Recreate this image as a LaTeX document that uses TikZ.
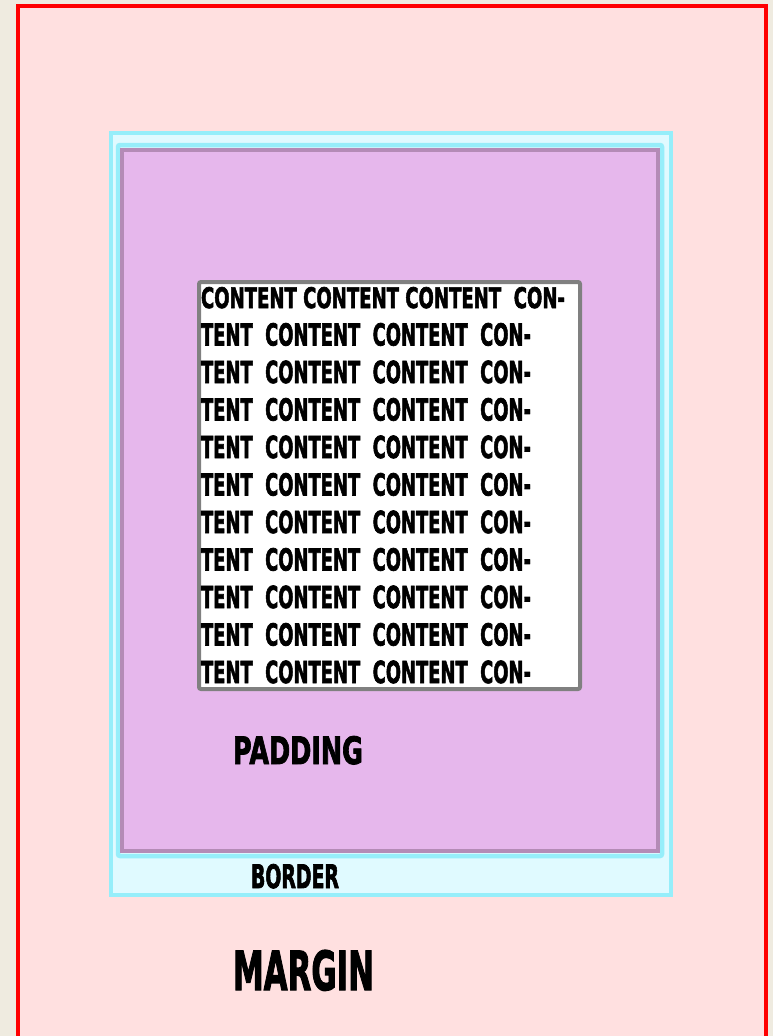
\documentclass[tikz,border=0pt]{standalone}
\usepackage{fontspec}
\setmainfont{DejaVu Sans}
\newfontfamily\heavyfont{DejaVu Sans}[BoldFeatures={FakeBold=2.5}]
\usepackage{graphicx}
\definecolor{bgbeige}{HTML}{EFEBE0}
\definecolor{marginred}{HTML}{FF0000}
\definecolor{marginfill}{HTML}{FFE0E0}
\definecolor{bordercyan}{HTML}{96EEFA}
\definecolor{borderfill}{HTML}{E0FAFF}
\definecolor{padfill}{HTML}{E6B7EC}
\definecolor{padedge}{HTML}{B48BB6}
\definecolor{contentgray}{HTML}{808080}
\newcommand{\fitbox}[3]{\resizebox{#1}{#2}{\heavyfont\bfseries #3}}
\tikzset{
  lbl/.style={anchor=base west, inner sep=0pt, outer sep=0pt, text=black},
  marginbox/.style={draw=marginred, line width=4.5pt, fill=marginfill},
  borderbox/.style={draw=bordercyan, line width=4.5pt, fill=borderfill},
  innerframe/.style={draw=bordercyan, line width=4.5pt, rounded corners=2pt},
  paddingbox/.style={draw=padedge, line width=4.5pt, fill=padfill},
  contentbox/.style={draw=contentgray, line width=4pt, fill=white, rounded corners=2pt}
}
\begin{document}
\begin{tikzpicture}[x=1pt,y=-1pt]
\useasboundingbox (0,0) rectangle (773,1036);
\clip (0,0) rectangle (773,1036);
\fill[bgbeige] (0,0) rectangle (773,1036);
% margin
\draw[marginbox] (18,6) rectangle (766,1050);
% border
\draw[borderbox] (111,133) rectangle (671,895);
\draw[innerframe] (118,145) rectangle (662,856);
% padding
\draw[paddingbox] (122,150) rectangle (658,851);
% content
\draw[contentbox] (199,282) rectangle (580,689);
\node[lbl] (l1) at (201,308) {\fitbox{364pt}{21pt}{CONTENT CONTENT CONTENT \ CON-}};
\foreach \i [count=\k from 2] in {345.5,383,420.5,458,495.5,533,570.5,608,645.5,683}{
  \node[lbl] (l\k) at (201,\i) {\fitbox{330pt}{22.5pt}{TENT \ CONTENT \ CONTENT \ CON-}};
}
% labels
\node[lbl] (padding) at (233,764) {\fitbox{130pt}{28pt}{PADDING}};
\node[lbl] (border) at (251,888) {\fitbox{88pt}{24pt}{BORDER}};
\node[lbl] (margin) at (233,990) {\fitbox{141pt}{40pt}{MARGIN}};
\end{tikzpicture}
\end{document}
